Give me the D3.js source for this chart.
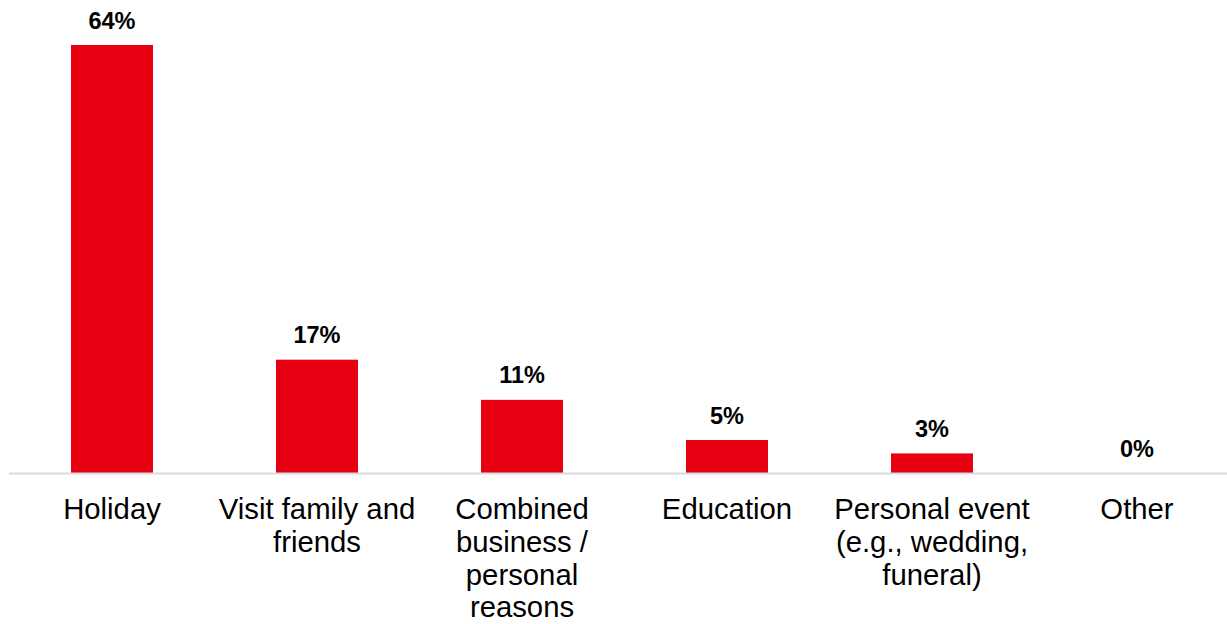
<!DOCTYPE html>
<html>
<head>
<meta charset="utf-8">
<script src="https://cdn.jsdelivr.net/npm/d3@7"></script>
<style>
  html, body { margin: 0; padding: 0; background: #fff; }
  svg { display: block; }
</style>
</head>
<body>
<svg id="chart" width="1227" height="624"></svg>
<script>
const categories = [
  "Holiday",
  "Visit family and\nfriends",
  "Combined\nbusiness /\npersonal\nreasons",
  "Education",
  "Personal event\n(e.g., wedding,\nfuneral)",
  "Other"
];
const values = [64, 17, 11, 5, 3, 0];
const valueLabels = ["64%", "17%", "11%", "5%", "3%", "0%"];

const W = 1227, H = 624;
const baseline = 473.5;
const svg = d3.select("#chart");

const x = d3.scaleBand()
  .domain(categories)
  .range([9.5, 1239.5])
  .paddingInner(0.6)
  .paddingOuter(0.3);

const y = d3.scaleLinear()
  .domain([0, 64])
  .range([baseline, 45]);

const data = categories.map((c, i) => ({ cat: c, v: values[i], label: valueLabels[i] }));

svg.append("g").selectAll("rect")
  .data(data)
  .join("rect")
  .attr("x", d => x(d.cat))
  .attr("width", x.bandwidth())
  .attr("y", d => y(d.v))
  .attr("height", d => baseline - y(d.v))
  .attr("fill", "#E60012");

// axis line
svg.append("line")
  .attr("x1", 9).attr("x2", W)
  .attr("y1", baseline).attr("y2", baseline)
  .attr("stroke", "#d9d9d9")
  .attr("stroke-width", 2);

// value labels
svg.append("g").selectAll("text")
  .data(data)
  .join("text")
  .attr("x", d => x(d.cat) + x.bandwidth() / 2)
  .attr("y", d => y(d.v) - 16.5)
  .attr("text-anchor", "middle")
  .attr("font-family", "Liberation Sans, Arial, sans-serif")
  .attr("font-weight", "bold")
  .attr("font-size", 23.5)
  .attr("fill", "#000")
  .text(d => d.label);

// category labels
const catG = svg.append("g").selectAll("text")
  .data(data)
  .join("text")
  .attr("x", d => x(d.cat) + x.bandwidth() / 2)
  .attr("y", baseline + 45.5)
  .attr("text-anchor", "middle")
  .attr("font-family", "Liberation Sans, Arial, sans-serif")
  .attr("font-size", 29.3)
  .attr("fill", "#000");

catG.each(function(d) {
  const lines = d.cat.split("\n");
  const t = d3.select(this);
  lines.forEach((ln, i) => {
    t.append("tspan")
      .attr("x", x(d.cat) + x.bandwidth() / 2)
      .attr("dy", i === 0 ? 0 : 32.8)
      .text(ln);
  });
});
</script>
</body>
</html>
